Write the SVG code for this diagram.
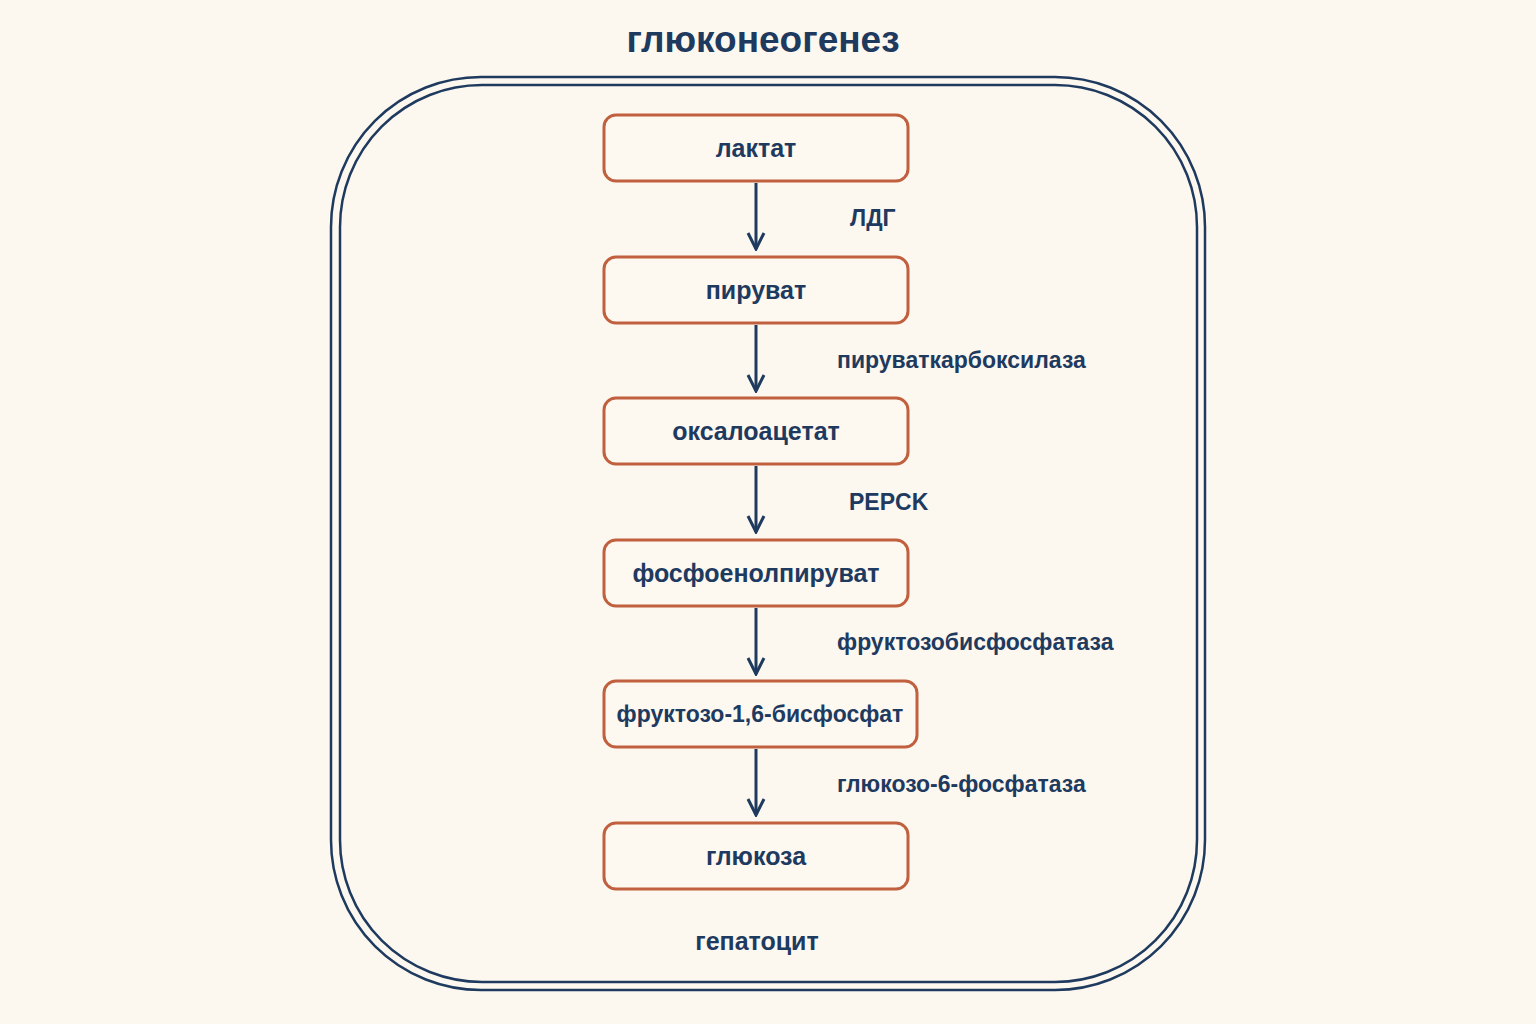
<svg xmlns="http://www.w3.org/2000/svg" width="1536" height="1024" viewBox="0 0 1536 1024">
<style>
.n{fill:#fdf8f0;stroke:#c0603f;stroke-width:3}
.t{font-family:"Liberation Sans",Arial,sans-serif;font-weight:bold;fill:#1e3a5f}
.nt{font-size:25px;text-anchor:middle}
.lb{font-size:23px}
.c{stroke:#1e3a5f;stroke-width:3;fill:none;marker-end:url(#a)}
</style>
<defs><marker id="a" viewBox="0 0 20 20" refX="18" refY="10" markerWidth="20" markerHeight="20" markerUnits="userSpaceOnUse" orient="auto"><path d="M2,2 L18,10 L2,18" fill="none" stroke="#1e3a5f" stroke-width="3"/></marker></defs>
<rect width="1536" height="1024" fill="#fcf7ef"/>
<text class="t" x="763" y="52" style="font-size:37px" text-anchor="middle">глюконеогенез</text>
<g id="cell">
<rect x="331" y="77" width="874" height="913" rx="150" fill="none" stroke="#1e3a5f" stroke-width="2.5"/>
<rect x="340" y="85" width="857" height="897" rx="142" fill="none" stroke="#1e3a5f" stroke-width="2.5"/>
<text class="t nt" x="757" y="950">гепатоцит</text>
</g>
<g id="n1"><rect class="n" x="604" y="115" width="304" height="66" rx="12"/><text class="t nt" x="756" y="157">лактат</text></g>
<g id="n2"><rect class="n" x="604" y="257" width="304" height="66" rx="12"/><text class="t nt" x="756" y="299">пируват</text></g>
<g id="n3"><rect class="n" x="604" y="398" width="304" height="66" rx="12"/><text class="t nt" x="756" y="440">оксалоацетат</text></g>
<g id="n4"><rect class="n" x="604" y="540" width="304" height="66" rx="12"/><text class="t nt" x="756" y="582">фосфоенолпируват</text></g>
<g id="n5"><rect class="n" x="604" y="681" width="313" height="66" rx="12"/><text class="t nt" x="760" y="722" style="font-size:23px">фруктозо-1,6-бисфосфат</text></g>
<g id="n6"><rect class="n" x="604" y="823" width="304" height="66" rx="12"/><text class="t nt" x="756" y="865">глюкоза</text></g>
<g id="connectors">
<path class="c" d="M756 183V249"/>
<path class="c" d="M756 325V391"/>
<path class="c" d="M756 466V532"/>
<path class="c" d="M756 608V674"/>
<path class="c" d="M756 749V815"/>
</g>
<g id="labels">
<text class="t lb" x="850" y="226">ЛДГ</text>
<text class="t lb" x="837" y="368">пируваткарбоксилаза</text>
<text class="t lb" x="849" y="510">PEPCK</text>
<text class="t lb" x="837" y="650">фруктозобисфосфатаза</text>
<text class="t lb" x="837" y="792">глюкозо-6-фосфатаза</text>
</g>
</svg>
